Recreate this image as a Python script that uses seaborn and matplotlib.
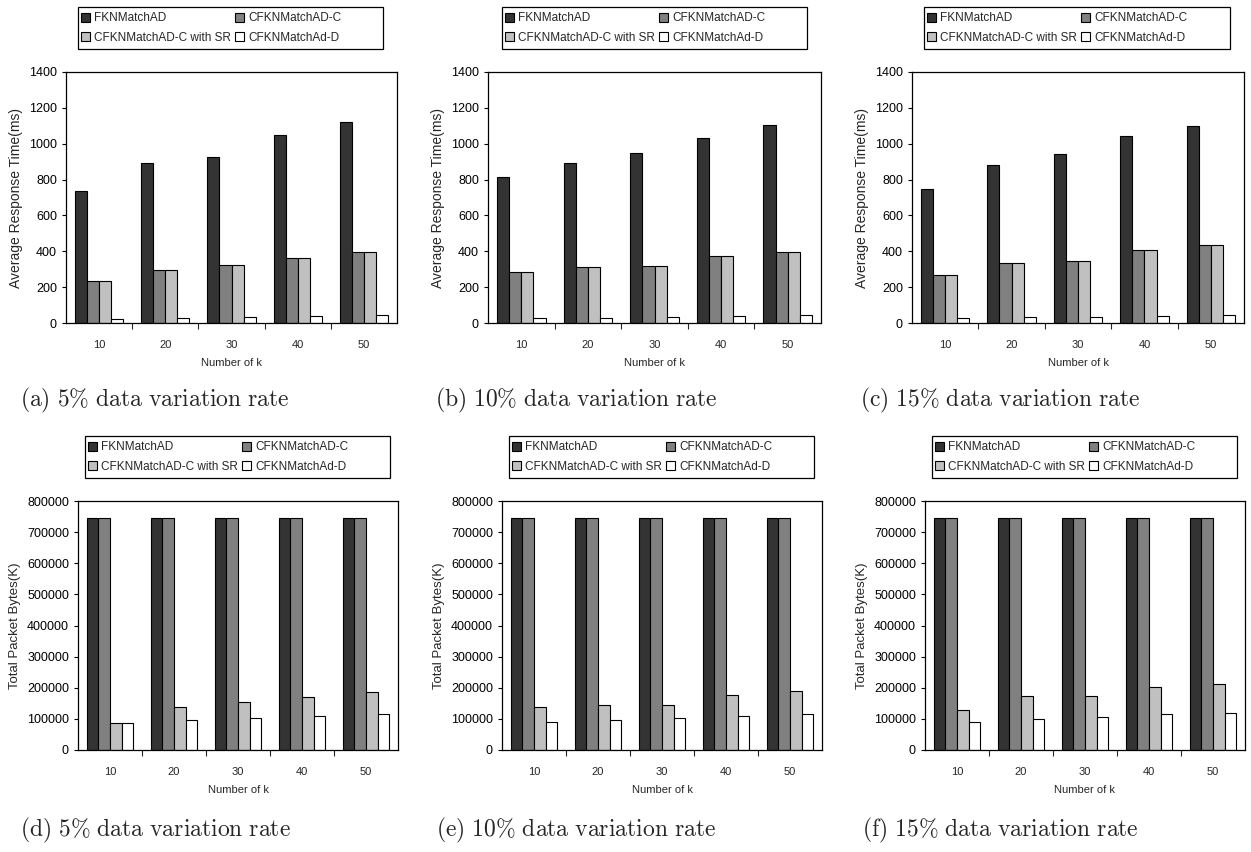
import pandas as pd
import matplotlib.pyplot as plt
import seaborn as sns
from matplotlib.patches import Rectangle
from matplotlib.ticker import FixedLocator

k_values = ["10", "20", "30", "40", "50"]
methods = ["FKNMatchAD", "CFKNMatchAD-C", "CFKNMatchAD-C with SR", "CFKNMatchAd-D"]
colors = ["#333333", "#808080", "#c0c0c0", "#ffffff"]

# response time (ms)
rt_a_fkn = [735, 890, 928, 1048, 1123]
rt_a_c = [232, 298, 325, 365, 397]
rt_a_sr = [232, 298, 325, 365, 397]
rt_a_d = [22, 28, 32, 38, 43]

rt_b_fkn = [812, 890, 950, 1032, 1102]
rt_b_c = [287, 315, 320, 375, 397]
rt_b_sr = [287, 315, 320, 375, 397]
rt_b_d = [27, 28, 33, 38, 43]

rt_c_fkn = [747, 880, 940, 1043, 1097]
rt_c_c = [270, 336, 347, 407, 435]
rt_c_sr = [270, 336, 347, 407, 435]
rt_c_d = [27, 32, 33, 38, 43]

# total packet bytes (K)
pb_d_fkn = [745000, 745000, 745000, 745000, 745000]
pb_d_c = [745000, 745000, 745000, 745000, 745000]
pb_d_sr = [87000, 137000, 153000, 170000, 185000]
pb_d_d = [87000, 97000, 103000, 110000, 115000]

pb_e_fkn = [745000, 745000, 745000, 745000, 745000]
pb_e_c = [745000, 745000, 745000, 745000, 745000]
pb_e_sr = [137000, 145000, 145000, 178000, 188000]
pb_e_d = [90000, 97000, 103000, 110000, 115000]

pb_f_fkn = [745000, 745000, 745000, 745000, 745000]
pb_f_c = [745000, 745000, 745000, 745000, 745000]
pb_f_sr = [128000, 175000, 172000, 203000, 213000]
pb_f_d = [90000, 100000, 105000, 115000, 118000]

captions = ["(a) 5% data variation rate", "(b) 10% data variation rate",
            "(c) 15% data variation rate", "(d) 5% data variation rate",
            "(e) 10% data variation rate", "(f) 15% data variation rate"]


def to_long(series):
    rows = []
    for m, vals in zip(methods, series):
        for k, v in zip(k_values, vals):
            rows.append({"k": k, "method": m, "value": v})
    return pd.DataFrame(rows)


panels = [
    (to_long([rt_a_fkn, rt_a_c, rt_a_sr, rt_a_d]), "Average Response Time(ms)"),
    (to_long([rt_b_fkn, rt_b_c, rt_b_sr, rt_b_d]), "Average Response Time(ms)"),
    (to_long([rt_c_fkn, rt_c_c, rt_c_sr, rt_c_d]), "Average Response Time(ms)"),
    (to_long([pb_d_fkn, pb_d_c, pb_d_sr, pb_d_d]), "Total Packet Bytes(K)"),
    (to_long([pb_e_fkn, pb_e_c, pb_e_sr, pb_e_d]), "Total Packet Bytes(K)"),
    (to_long([pb_f_fkn, pb_f_c, pb_f_sr, pb_f_d]), "Total Packet Bytes(K)"),
]

sns.set_style("white")
plt.rcParams["font.family"] = ["Liberation Sans", "DejaVu Sans"]
plt.rcParams["mathtext.fontset"] = "cm"

fig = plt.figure(figsize=(12.51, 8.52), dpi=100)
W, H = 1251, 852

# axes boxes in pixels: left, right, top, bottom
ax_px = [(66, 397, 72, 323), (488, 821, 72, 323), (912, 1244, 72, 323),
         (78, 398, 501, 750), (502, 822, 501, 750), (925, 1245, 501, 750)]
leg_px = [(78, 383, 7, 49), (502, 807, 7, 49), (924, 1230, 7, 49),
          (85, 390, 436, 478), (509, 814, 436, 478), (932, 1237, 436, 478)]
cap_px = [(155, 400), (576, 400), (1000, 400), (155, 830), (576, 830), (1000, 830)]

for i, (df, ylabel) in enumerate(panels):
    l, r, t, b = ax_px[i]
    ax = fig.add_axes([l / W, 1 - b / H, (r - l) / W, (b - t) / H])
    sns.barplot(data=df, x="k", y="value", hue="method", hue_order=methods,
                palette=colors, width=0.73, edgecolor="black", linewidth=0.8,
                saturation=1, gap=0, ax=ax)
    if i < 3:
        ax.set_ylim(0, 1400)
        ax.set_yticks(range(0, 1401, 200))
        ylab_size = 10
    else:
        ax.set_ylim(0, 800000)
        ax.set_yticks(range(0, 800001, 100000))
        ylab_size = 9.5
    ax.set_xlim(-0.5, 4.5)
    ax.xaxis.set_minor_locator(FixedLocator([0.5, 1.5, 2.5, 3.5]))
    ax.tick_params(axis="x", which="major", length=0, labelsize=8, pad=12)
    ax.tick_params(axis="x", which="minor", length=4, width=0.8, direction="out",
                   bottom=True)
    ax.tick_params(axis="y", length=3, width=0.8, direction="out", left=True,
                   labelsize=9, colors="black")
    for s in ax.spines.values():
        s.set_color("black")
        s.set_linewidth(0.9)
    ax.set_xlabel("Number of k", fontsize=8, labelpad=6)
    ax.set_ylabel(ylabel, fontsize=ylab_size)

    ax.get_legend().remove()
    handles, labels = ax.get_legend_handles_labels()
    # matplotlib fills legend columns first; reorder so rows read across
    order = [0, 2, 1, 3]
    handles = [handles[j] for j in order]
    labels = [labels[j] for j in order]
    ll, lr, lt, lb = leg_px[i]
    fig.patches.append(Rectangle((ll / W, 1 - lb / H), (lr - ll) / W, (lb - lt) / H,
                                 transform=fig.transFigure, fill=False,
                                 edgecolor="black", linewidth=0.9))
    fig.legend(handles, labels, ncol=2, loc="center left",
               bbox_to_anchor=((ll + 3) / W, 1 - (lt + lb) / 2 / H),
               bbox_transform=fig.transFigure, fontsize=8.5, frameon=False,
               handlelength=0.8, handleheight=0.8, handletextpad=0.3,
               borderpad=0, labelspacing=0.65, columnspacing=0.35,
               borderaxespad=0)

    cx, cy = cap_px[i]
    cap = captions[i].replace("%", r"\%").replace(" ", r"\ ")
    fig.text(cx / W, 1 - cy / H, r"$\mathrm{" + cap + "}$", ha="center",
             va="center", fontsize=17)

fig.savefig("out.png", dpi=100)
